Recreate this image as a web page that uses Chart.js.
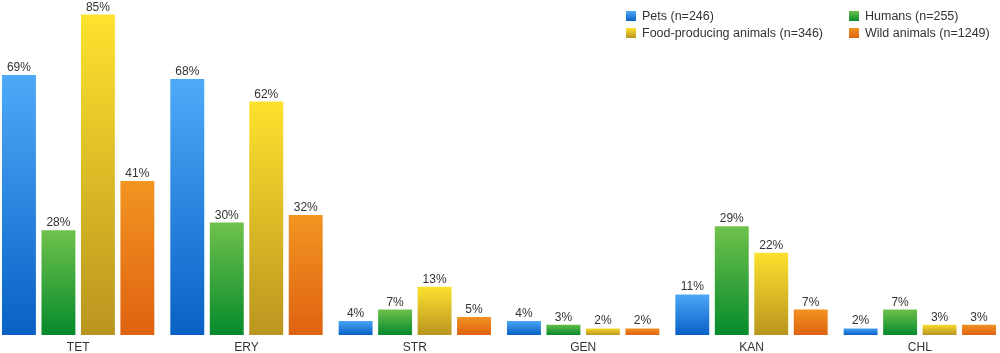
<!DOCTYPE html>
<html>
<head>
<meta charset="utf-8">
<script src="https://cdn.jsdelivr.net/npm/chart.js@4"></script>
<style>
  html, body { margin: 0; padding: 0; background: #fff; overflow: hidden; }
  #wrap { position: absolute; left: -6px; top: 0; width: 1010px; height: 353px; }
  #legend { position: absolute; top: 8px; left: 626px; font: 12.5px "Liberation Sans", Arial, sans-serif; color: #333;
    display: grid; grid-template-columns: 223px auto; row-gap: 2px; }
  #legend div { display: flex; align-items: center; height: 15px; }
  #legend span.box { width: 10px; height: 10px; margin-right: 6px; display: inline-block; }
</style>
</head>
<body>
<div id="wrap"><canvas id="grafico"></canvas></div>
<div id="legend"></div>
<script>
/* datos del grafico */
const categorias = ["TET", "ERY", "STR", "GEN", "KAN", "CHL"];
const pets = [69, 68, 4, 4, 11, 2];
const humans = [28, 30, 7, 3, 29, 7];
const food = [85, 62, 13, 2, 22, 3];
const wild = [41, 32, 5, 2, 7, 3];

const series = [
	{ label: "Pets (n=246)", data: pets, top: "#4eaaf8", bottom: "#0960c6" },
	{ label: "Humans (n=255)", data: humans, top: "#70c24c", bottom: "#068a2c" },
	{ label: "Food-producing animals (n=346)", data: food, top: "#fde22e", bottom: "#b9951f" },
	{ label: "Wild animals (n=1249)", data: wild, top: "#f29522", bottom: "#df6210" }
];

// degradado por barra (claro arriba, oscuro abajo)
function degradado(s) {
	return function (ctx) {
		const chart = ctx.chart;
		const y = chart.scales.y;
		if (!y || ctx.raw === undefined) return s.top;
		const top = y.getPixelForValue(ctx.raw);
		const base = y.getPixelForValue(0);
		if (!isFinite(top) || !isFinite(base) || top === base) return s.top;
		const g = chart.ctx.createLinearGradient(0, top, 0, base);
		g.addColorStop(0, s.top);
		g.addColorStop(1, s.bottom);
		return g;
	};
}

// etiquetas encima de las barras
const etiquetas = {
	id: "etiquetas",
	afterDatasetsDraw(chart) {
		const c = chart.ctx;
		c.save();
		c.font = "12px 'Liberation Sans', Arial, sans-serif";
		c.fillStyle = "#333";
		c.textAlign = "center";
		c.textBaseline = "alphabetic";
		chart.data.datasets.forEach((ds, i) => {
			chart.getDatasetMeta(i).data.forEach((bar, j) => {
				c.fillText(ds.data[j] + "%", bar.x, bar.y - 3);
			});
		});
		c.restore();
	}
};

const G4 = document.getElementById("grafico").getContext("2d");
let grafico = new Chart(G4, {
	type: "bar",
	data: {
		labels: categorias,
		datasets: series.map(s => ({
			label: s.label,
			data: s.data,
			backgroundColor: degradado(s),
			borderColor: "rgba(255,255,255,0.45)",
			borderWidth: 1,
			categoryPercentage: 0.938,
			barPercentage: 0.91
		}))
	},
	options: {
		responsive: true,
		maintainAspectRatio: false,
		animation: false,
		layout: { padding: 0 },
		scales: {
			y: {
				display: false,
				min: 0,
				max: 88.6
			},
			x: {
				grid: { display: false, drawTicks: false },
				border: { display: false },
				ticks: {
					color: "#333",
					font: { family: "'Liberation Sans', Arial, sans-serif", size: 12 },
					padding: 5
				},
				afterFit(scale) { scale.height = 18; }
			}
		},
		plugins: {
			legend: { display: false },
			tooltip: { enabled: false }
		}
	},
	plugins: [etiquetas]
});

// leyenda en dos columnas
const leyenda = document.getElementById("legend");
series.forEach(s => {
	const d = document.createElement("div");
	d.innerHTML = '<span class="box" style="background:linear-gradient(' + s.top + ',' + s.bottom + ')"></span>' + s.label;
	leyenda.appendChild(d);
});
</script>
</body>
</html>
